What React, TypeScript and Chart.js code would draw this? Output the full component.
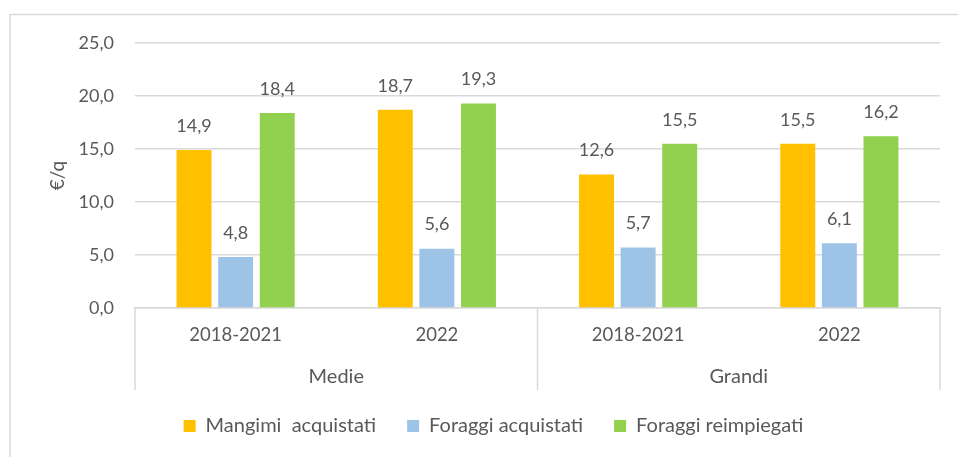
import React, { useEffect, useRef } from "react";
import { Chart, registerables } from "chart.js";
Chart.register(...registerables);

const groups = ["Medie", "Grandi"];
const periods = ["2018-2021", "2022", "2018-2021", "2022"];
const seriesNames = ["Mangimi  acquistati", "Foraggi acquistati", "Foraggi reimpiegati"];
const mangimi = [14.9, 18.7, 12.6, 15.5];
const foraggiAcquistati = [4.8, 5.6, 5.7, 6.1];
const foraggiReimpiegati = [18.4, 19.3, 15.5, 16.2];
const yMin = 0;
const yMax = 25;
const yStep = 5;
const colors = ["#FFC000", "#9DC3E6", "#92D050"];

const FONT = "Lato";
const TXT = "#595959";
const GRID = "#d9d9d9";

const fmt = (v: number) => v.toFixed(1).replace(".", ",");

const decor = {
  id: "decor",
  beforeDraw(chart: any) {
    const ctx = chart.ctx;
    ctx.save();
    ctx.strokeStyle = GRID;
    ctx.lineWidth = 1.5;
    ctx.beginPath();
    ctx.moveTo(10, chart.height + 2);
    ctx.lineTo(10, 14.5);
    ctx.lineTo(chart.width + 2, 14.5);
    ctx.stroke();
    ctx.restore();
  },
  afterDraw(chart: any) {
    const ctx = chart.ctx;
    const x = chart.scales.x;
    const bottom = chart.chartArea.bottom;
    const step = x.getPixelForValue(1) - x.getPixelForValue(0);
    ctx.save();
    const bounds = [
      x.getPixelForValue(0) - step / 2,
      x.getPixelForValue(1) + step / 2,
      x.getPixelForValue(3) + step / 2,
    ];
    ctx.strokeStyle = GRID;
    ctx.lineWidth = 1.5;
    bounds.forEach((bx) => {
      ctx.beginPath();
      ctx.moveTo(bx, bottom);
      ctx.lineTo(bx, bottom + 82);
      ctx.stroke();
    });
    ctx.fillStyle = TXT;
    ctx.font = `20px ${FONT}`;
    ctx.textAlign = "center";
    ctx.textBaseline = "middle";
    groups.forEach((g, i) => {
      const cx = (x.getPixelForValue(i * 2) + x.getPixelForValue(i * 2 + 1)) / 2;
      ctx.fillText(g, cx, bottom + 69);
    });
    ctx.font = `18px ${FONT}`;
    chart.data.datasets.forEach((ds: any, di: number) => {
      const meta = chart.getDatasetMeta(di);
      meta.data.forEach((el: any, i: number) => {
        ctx.fillText(fmt(ds.data[i]), el.x, el.y - 24);
      });
    });
    ctx.restore();
  },
};

export default function App() {
  const ref = useRef<HTMLCanvasElement | null>(null);
  useEffect(() => {
    if (!ref.current) return;
    const series = [mangimi, foraggiAcquistati, foraggiReimpiegati];
    const chart = new Chart(ref.current, {
      type: "bar",
      data: {
        labels: periods,
        datasets: series.map((d, i) => ({
          label: seriesNames[i],
          data: d,
          backgroundColor: colors[i],
          borderWidth: 0,
          categoryPercentage: 0.62,
          barPercentage: 0.84,
        })),
      },
      options: {
        responsive: false,
        animation: false,
        layout: { padding: { top: 43, left: 29, right: 0, bottom: 11 } },
        plugins: {
          tooltip: { enabled: false },
          legend: {
            position: "bottom",
            labels: {
              font: { family: FONT, size: 20 },
              color: TXT,
              boxWidth: 12,
              boxHeight: 12,
              padding: 31,
            },
          },
        },
        scales: {
          x: {
            grid: { display: false, drawTicks: false },
            border: { display: true, color: GRID, width: 1.5 },
            ticks: { font: { family: FONT, size: 18.5 }, color: TXT, padding: 16 },
            afterFit: (s: any) => {
              s.height = 77;
            },
          },
          y: {
            min: yMin,
            max: yMax,
            ticks: {
              stepSize: yStep,
              font: { family: FONT, size: 18 },
              color: TXT,
              padding: 21,
              callback: (v: any) => fmt(Number(v)),
            },
            grid: { color: GRID, lineWidth: 1.5, drawTicks: false },
            border: { display: false },
            title: {
              display: true,
              text: "€/q",
              font: { family: FONT, size: 19 },
              color: TXT,
              padding: { top: 17, bottom: 0 },
            },
            afterFit: (s: any) => {
              s.width = 106;
            },
          },
          y2: {
            position: "right",
            min: 0,
            max: 1,
            display: true,
            grid: { display: false, drawTicks: false },
            border: { display: false },
            ticks: { display: false },
            afterFit: (s: any) => {
              s.width = 18;
            },
          },
        },
      },
      plugins: [decor],
    } as any);
    return () => chart.destroy();
  }, []);
  return (
    <div style={{ position: "absolute", left: 0, top: 0, width: 958, height: 457, background: "#fff" }}>
      <canvas ref={ref} width={958} height={457} style={{ display: "block" }} />
    </div>
  );
}
